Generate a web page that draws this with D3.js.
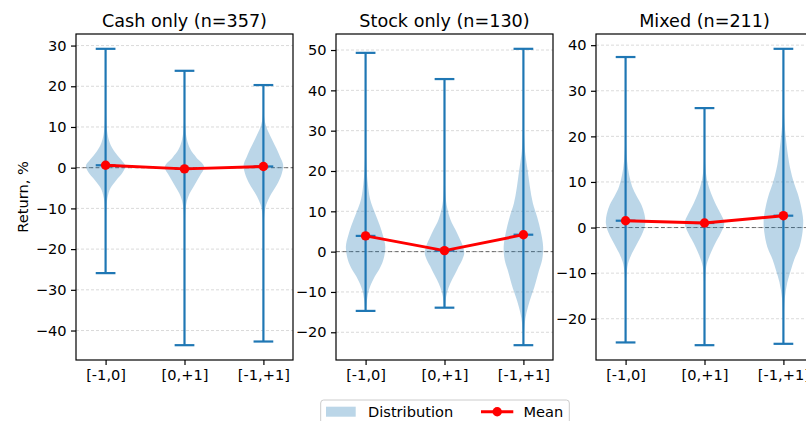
<!DOCTYPE html>
<html>
<head>
<meta charset="utf-8">
<script src="https://cdn.jsdelivr.net/npm/d3@7"></script>
<style>
  html, body { margin: 0; padding: 0; background: #fff; }
  svg { display: block; font-family: "DejaVu Sans", sans-serif; }
</style>
</head>
<body>
<svg id="chart" width="806" height="421"></svg>
<script>
// ---------------- data ----------------
const panelTitles = ["Cash only (n=357)", "Stock only (n=130)", "Mixed (n=211)"];
const windows = ["[-1,0]", "[0,+1]", "[-1,+1]"];
const means = [[0.6, -0.3, 0.3], [3.9, 0.25, 4.2], [1.5, 1.0, 2.6]];
const mins = [[-25.9, -43.6, -42.7], [-14.7, -13.9, -23.2], [-25.2, -25.8, -25.5]];
const maxs = [[29.2, 23.8, 20.3], [49.3, 42.8, 50.3], [37.4, 26.2, 39.2]];
const yTicks = [
  [-40, -30, -20, -10, 0, 10, 20, 30],
  [-20, -10, 0, 10, 20, 30, 40, 50],
  [-20, -10, 0, 10, 20, 30, 40]
];
// violin outlines: [return %, relative half-width]
const cashProfiles = [
  [[29.2,0],[20,0.01],[12,0.035],[8.5,0.09],[6,0.22],[4,0.45],[2,0.78],[0.4,1],[-1.5,0.82],[-3,0.55],[-5,0.25],[-7.5,0.09],[-11,0.03],[-18,0.01],[-25.9,0]],
  [[23.8,0],[15,0.01],[10,0.04],[7,0.12],[4.5,0.3],[2.5,0.6],[0.2,1],[-2,0.78],[-4.5,0.48],[-7,0.2],[-9.5,0.07],[-14,0.02],[-25,0.006],[-43.6,0]],
  [[20.3,0],[15,0.015],[12,0.05],[10,0.15],[7,0.43],[4.5,0.68],[2.5,0.86],[0.7,1],[-1.5,0.93],[-3.7,0.74],[-5.5,0.52],[-7,0.33],[-9,0.15],[-11.5,0.05],[-16,0.015],[-25,0.005],[-42.7,0]]
];
const stockProfiles = [
  [[49.3,0],[35,0.005],[25,0.02],[20,0.06],[17,0.11],[13,0.23],[9.5,0.48],[6.5,0.72],[4,0.88],[1.2,1],[-2,0.9],[-4.5,0.68],[-6.2,0.46],[-8,0.28],[-9.5,0.17],[-12,0.07],[-14.7,0.02]],
  [[42.8,0],[30,0.004],[20,0.015],[14,0.05],[11,0.13],[8,0.3],[5.5,0.55],[3.5,0.74],[1.5,0.92],[-0.4,1],[-2,0.9],[-3.7,0.72],[-5.5,0.54],[-7,0.38],[-9,0.2],[-11,0.09],[-13.9,0.03]],
  [[50.3,0],[35,0.01],[28,0.04],[24,0.1],[20,0.22],[16,0.33],[12,0.48],[8.5,0.7],[5,0.88],[1.2,1],[-2,0.95],[-4.5,0.8],[-8.7,0.56],[-11,0.4],[-13.7,0.23],[-16.5,0.1],[-19.5,0.04],[-23.2,0.01]]
];
const mixedProfiles = [
  [[37.4,0],[25,0.005],[18,0.03],[14.5,0.08],[11.5,0.18],[9,0.33],[7,0.55],[5,0.8],[3,0.95],[1,1],[-1,0.88],[-2.7,0.69],[-4.2,0.5],[-5.6,0.33],[-7.5,0.15],[-10,0.05],[-15,0.01],[-25.2,0]],
  [[26.2,0],[18,0.01],[13,0.05],[10,0.15],[7.5,0.33],[5.4,0.54],[3,0.82],[1,1],[-1,0.85],[-2.7,0.64],[-4.5,0.43],[-6.4,0.24],[-8.5,0.09],[-12,0.025],[-18,0.005],[-25.8,0]],
  [[39.2,0],[30,0.01],[24,0.04],[19,0.14],[15,0.26],[12.7,0.36],[10,0.52],[7.5,0.72],[4.5,0.9],[1.7,1],[-1,0.97],[-4.2,0.82],[-7,0.55],[-9.3,0.38],[-12,0.2],[-15.5,0.07],[-20,0.02],[-25.5,0.005]]
];
const profiles = [cashProfiles, stockProfiles, mixedProfiles];

// ---------------- layout ----------------
const svg = d3.select("#chart");
const panelLefts = [76, 336, 596];
const pw = 217, plotTop = 34, plotBottom = 360;
const blue = "#1f77b4";
const fontTick = 14.6, fontTitle = 17.6;
const violinWidth = 0.5; // in category steps

panelTitles.forEach((title, p) => {
  const g = svg.append("g").attr("transform", `translate(${panelLefts[p]},0)`);
  const lo = d3.min(mins[p]), hi = d3.max(maxs[p]);
  const pad = (hi - lo) * 0.05;
  const y = d3.scaleLinear().domain([lo - pad, hi + pad]).range([plotBottom, plotTop]);
  const x = d3.scalePoint().domain(windows).range([0, pw]).padding(0.375);
  const step = x.step();
  const halfW = step * violinWidth / 2;

  // grid
  g.append("g").selectAll("line").data(yTicks[p]).join("line")
    .attr("x1", 0).attr("x2", pw)
    .attr("y1", d => y(d)).attr("y2", d => y(d))
    .attr("stroke", "#b0b0b0").attr("stroke-opacity", 0.6)
    .attr("stroke-width", 0.8).attr("stroke-dasharray", "3,2");
  // zero line
  g.append("line").attr("x1", 0).attr("x2", pw)
    .attr("y1", y(0)).attr("y2", y(0))
    .attr("stroke", "#000").attr("stroke-opacity", 0.55)
    .attr("stroke-width", 1).attr("stroke-dasharray", "4,2.5");

  // violins
  const area = d3.area()
    .curve(d3.curveCatmullRom.alpha(0.5))
    .y(d => y(d[0]));
  windows.forEach((w, i) => {
    const cx = x(w);
    area.x0(d => cx - d[1] * halfW).x1(d => cx + d[1] * halfW);
    g.append("path").datum(profiles[p][i])
      .attr("d", area)
      .attr("fill", blue).attr("fill-opacity", 0.3);
  });

  // bars, caps, mean ticks
  const capHalf = step * violinWidth / 4;
  windows.forEach((w, i) => {
    const cx = x(w);
    const lg = g.append("g").attr("stroke", blue).attr("stroke-width", 2.2);
    lg.append("line").attr("x1", cx).attr("x2", cx).attr("y1", y(maxs[p][i])).attr("y2", y(mins[p][i]));
    [maxs[p][i], mins[p][i], means[p][i]].forEach(v => {
      lg.append("line").attr("x1", cx - capHalf).attr("x2", cx + capHalf)
        .attr("y1", y(v)).attr("y2", y(v));
    });
  });

  // mean line
  const line = d3.line().x((d, i) => x(windows[i])).y(d => y(d));
  g.append("path").datum(means[p]).attr("d", line)
    .attr("fill", "none").attr("stroke", "red").attr("stroke-width", 2.9)
    .attr("stroke-linejoin", "round");
  g.append("g").selectAll("circle").data(means[p]).join("circle")
    .attr("cx", (d, i) => x(windows[i])).attr("cy", d => y(d))
    .attr("r", 4.7).attr("fill", "red");

  // axes
  const yAxis = d3.axisLeft(y).tickValues(yTicks[p]).tickSize(5).tickPadding(4.5)
    .tickFormat(d3.format("d"));
  const ya = g.append("g").call(yAxis);
  const xAxis = d3.axisBottom(x).tickSize(5).tickPadding(5);
  const xa = g.append("g").attr("transform", `translate(0,${plotBottom})`).call(xAxis);
  [ya, xa].forEach(a => {
    a.select(".domain").remove();
    a.selectAll(".tick line").attr("stroke", "#000").attr("stroke-width", 1.2);
    a.selectAll(".tick text").attr("font-size", fontTick)
      .attr("font-family", "DejaVu Sans").attr("fill", "#000");
  });

  // spines
  g.append("rect").attr("x", 0).attr("y", plotTop).attr("width", pw).attr("height", plotBottom - plotTop)
    .attr("fill", "none").attr("stroke", "#000").attr("stroke-width", 1.2);

  // title
  g.append("text").attr("x", pw / 2).attr("y", 27)
    .attr("text-anchor", "middle").attr("font-size", fontTitle).text(title);
});

// y label
svg.append("text")
  .attr("transform", `translate(28,${(plotTop + plotBottom) / 2}) rotate(-90)`)
  .attr("text-anchor", "middle").attr("font-size", fontTick).text("Return, %");

// legend
const lg = svg.append("g");
lg.append("rect").attr("x", 320.7).attr("y", 400).attr("width", 248.6).attr("height", 30)
  .attr("rx", 3).attr("fill", "#fff").attr("fill-opacity", 0.8)
  .attr("stroke", "#cccccc").attr("stroke-width", 1);
lg.append("rect").attr("x", 326).attr("y", 406.7).attr("width", 29.7).attr("height", 10)
  .attr("fill", blue).attr("fill-opacity", 0.3);
lg.append("text").attr("x", 368).attr("y", 417).attr("font-size", fontTick).text("Distribution");
lg.append("line").attr("x1", 481).attr("x2", 513.3).attr("y1", 411.7).attr("y2", 411.7)
  .attr("stroke", "red").attr("stroke-width", 2.9);
lg.append("circle").attr("cx", 497.2).attr("cy", 411.7).attr("r", 4.7).attr("fill", "red");
lg.append("text").attr("x", 523.5).attr("y", 417).attr("font-size", fontTick).text("Mean");
</script>
</body>
</html>
